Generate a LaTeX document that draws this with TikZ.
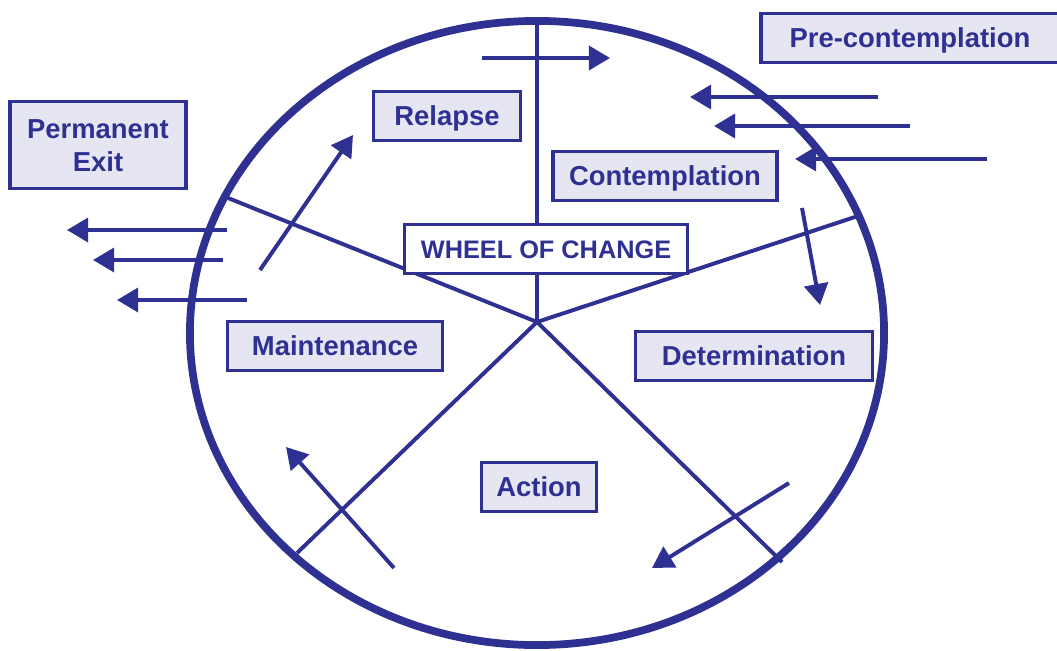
\documentclass[tikz,border=0pt]{standalone}
\usepackage{fontspec}
\setmainfont{Liberation Sans}
\usetikzlibrary{arrows.meta}
\definecolor{navy}{HTML}{2E3192}
\definecolor{lav}{HTML}{E6E6F2}

\begin{document}
\begin{tikzpicture}[x=0.025cm, y=-0.025cm,
    stage/.style = {draw=navy, fill=lav, line width=2.2pt, text=navy, font=\fontsize{19.5}{23.5}\selectfont\bfseries, text height=14pt, text depth=0pt, align=center, minimum height=1.22cm},
    spoke/.style = {navy, line width=2.8pt},
    flow/.style = {navy, line width=2.8pt, -{Triangle[length=15pt,width=17pt]}}]
    \useasboundingbox (0,0) rectangle (1057,650);

    \draw[navy, line width=5.5pt] (537,333) ellipse [x radius=8.675cm, y radius=7.8cm];

    \coordinate (hub) at (537,322);
    \coordinate (s_top) at (537,22);
    \coordinate (s_left) at (228,198);
    \coordinate (s_right) at (858,216);
    \coordinate (s_ll) at (297,553);
    \coordinate (s_lr) at (782,562);
    \foreach \s in {s_top,s_left,s_right,s_ll,s_lr}
        \draw[spoke] (hub) -- (\s);

    \coordinate (a_1) at (482,58);   \coordinate (b_1) at (610,58);
    \coordinate (a_2) at (878,97);   \coordinate (b_2) at (690,97);
    \coordinate (a_3) at (910,126);  \coordinate (b_3) at (714,126);
    \coordinate (a_4) at (987,159);  \coordinate (b_4) at (795,159);
    \coordinate (a_5) at (802,208);  \coordinate (b_5) at (820,305);
    \coordinate (a_6) at (789,483);  \coordinate (b_6) at (652,568);
    \coordinate (a_7) at (394,568);  \coordinate (b_7) at (286,447);
    \coordinate (a_8) at (260,270);  \coordinate (b_8) at (353,135);
    \coordinate (a_9) at (227,230);  \coordinate (b_9) at (67,230);
    \coordinate (a_10) at (223,260); \coordinate (b_10) at (93,260);
    \coordinate (a_11) at (247,300); \coordinate (b_11) at (117,300);
    \foreach \i in {1,...,11}
        \draw[flow] (a_\i) -- (b_\i);

    \node[stage, minimum width=7.45cm] (pre) at (910,38) {Pre-contemplation};
    \node[stage, minimum width=3.675cm] (relapse) at (447,116) {Relapse};
    \node[stage, minimum width=4.4cm, minimum height=2.175cm, text height=37.5pt] (exit) at (98,145) {Permanent\\Exit};
    \node[stage, minimum width=5.6cm] (contemp) at (665,176) {Contemplation};
    \node[stage, fill=white, minimum width=7.075cm, text height=13pt, font=\fontsize{18}{21}\selectfont\bfseries] (wheel) at (546,249) {WHEEL OF CHANGE};
    \node[stage, minimum width=5.375cm] (maint) at (335,346) {Maintenance};
    \node[stage, minimum width=5.925cm] (determ) at (754,356) {Determination};
    \node[stage, minimum width=2.875cm] (action) at (539,487) {Action};
\end{tikzpicture}
\end{document}
